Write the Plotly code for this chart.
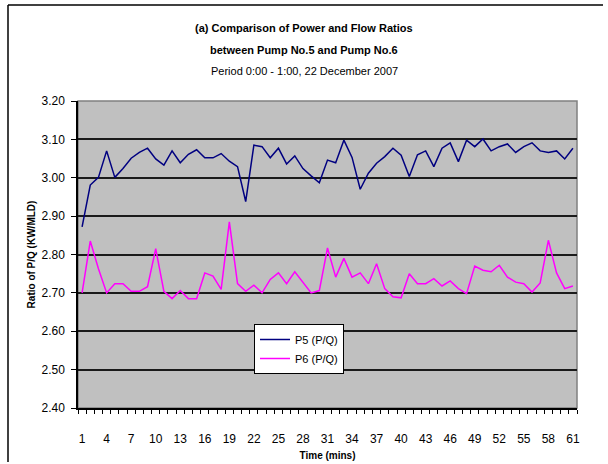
import plotly.graph_objects as go

minutes = list(range(1, 62))
p5 = [2.872, 2.981, 3.001, 3.070, 3.001, 3.024, 3.051, 3.066, 3.077, 3.049,
      3.033, 3.070, 3.039, 3.061, 3.073, 3.052, 3.052, 3.063, 3.043, 3.029,
      2.938, 3.085, 3.081, 3.052, 3.077, 3.036, 3.057, 3.024, 3.005, 2.987,
      3.046, 3.039, 3.098, 3.053, 2.970, 3.012, 3.038, 3.055, 3.077, 3.059,
      3.003, 3.060, 3.070, 3.029, 3.077, 3.091, 3.042, 3.098, 3.081, 3.101,
      3.070, 3.081, 3.088, 3.066, 3.081, 3.091, 3.070, 3.066, 3.070, 3.049,
      3.077]
p6 = [2.700, 2.835, 2.763, 2.700, 2.724, 2.724, 2.704, 2.704, 2.716, 2.815,
      2.704, 2.685, 2.706, 2.685, 2.685, 2.752, 2.744, 2.709, 2.885, 2.724,
      2.704, 2.720, 2.700, 2.735, 2.752, 2.724, 2.755, 2.726, 2.700, 2.706,
      2.817, 2.741, 2.790, 2.741, 2.752, 2.724, 2.776, 2.711, 2.690, 2.687,
      2.750, 2.724, 2.724, 2.737, 2.718, 2.731, 2.711, 2.698, 2.770, 2.759,
      2.755, 2.772, 2.741, 2.728, 2.724, 2.702, 2.726, 2.837, 2.752, 2.711,
      2.718]
x_tick_vals = list(range(1, 62, 3))
y_tick_vals = [2.40, 2.50, 2.60, 2.70, 2.80, 2.90, 3.00, 3.10, 3.20]

FONT = "Liberation Sans, Arial, sans-serif"

# category boundaries (ticks between categories, as in a category axis)
boundaries = [m - 0.5 for m in minutes] + [minutes[-1] + 0.5]
x_range = [boundaries[0], boundaries[-1]]

fig = go.Figure()
fig.add_trace(go.Scatter(x=minutes, y=p5, mode="lines", name="P5 (P/Q)",
                         line=dict(color="#000080", width=1.5), xaxis="x"))
fig.add_trace(go.Scatter(x=minutes, y=p6, mode="lines", name="P6 (P/Q)",
                         line=dict(color="#FF00FF", width=1.5), xaxis="x2"))

L, R, T, B = 78, 31, 101, 56
W, H = 608, 464
pw, ph = W - L - R, H - T - B

def px(xp):
    return (xp - L) / pw

def py(yp):
    return (H - B - yp) / ph

fig.update_layout(
    width=W, height=H,
    margin=dict(l=L, r=R, t=T, b=B, pad=0),
    paper_bgcolor="white",
    plot_bgcolor="#C0C0C0",
    font=dict(family=FONT, size=12, color="black"),
    showlegend=True,
    legend=dict(x=px(254), y=py(324), xanchor="left", yanchor="top",
                bgcolor="white", bordercolor="black", borderwidth=1,
                font=dict(family=FONT, size=11, color="black"),
                tracegroupgap=0, itemwidth=30),
    xaxis=dict(range=x_range, tickmode="array", tickvals=boundaries,
               ticktext=["" for _ in boundaries], showticklabels=False,
               ticks="outside", ticklen=4, tickwidth=1, tickcolor="black",
               showgrid=False, zeroline=False, showline=True, linecolor="black",
               linewidth=1.5, automargin=False),
    xaxis2=dict(range=x_range, overlaying="x", anchor="y", side="bottom",
                tickmode="array", tickvals=x_tick_vals,
                ticktext=[str(v) for v in x_tick_vals], ticks="", showgrid=False,
                zeroline=False, showline=False, tickfont=dict(size=12),
                ticklabelstandoff=22, automargin=False,
                title=dict(text="<b>Time (mins)</b>", font=dict(size=10), standoff=6)),
    yaxis=dict(range=[2.40, 3.20], tickmode="array", tickvals=y_tick_vals,
               ticktext=["%.2f" % v for v in y_tick_vals], ticks="outside",
               ticklen=5, tickcolor="black", showgrid=True, gridcolor="#1a1a1a",
               gridwidth=1.5, zeroline=False, showline=True, linecolor="black",
               linewidth=1.5, tickfont=dict(size=12), ticklabelstandoff=4,
               automargin=False,
               title=dict(text="<b>Ratio of P/Q (KW/MLD)</b>", font=dict(size=10), standoff=4)),
)

# plot area border (top/right)
fig.add_shape(type="rect", xref="paper", yref="paper", x0=0, y0=0, x1=1, y1=1,
              line=dict(color="#808080", width=1.5), fillcolor="rgba(0,0,0,0)", layer="below")
# outer chart border (left / top)
fig.add_shape(type="line", xref="paper", yref="paper", x0=px(8), y0=py(462),
              x1=px(8), y1=py(5), line=dict(color="black", width=1.5))
fig.add_shape(type="line", xref="paper", yref="paper", x0=px(8), y0=py(5),
              x1=px(603), y1=py(5), line=dict(color="black", width=1.5))

for txt, yy in [("<b>(a) Comparison of Power and Flow Ratios</b>", 28),
                ("<b>between Pump No.5 and Pump No.6</b>", 50),
                ("Period 0:00 - 1:00, 22 December 2007", 71)]:
    fig.add_annotation(text=txt, x=px(304), y=py(yy), xref="paper", yref="paper",
                       xanchor="center", yanchor="middle", showarrow=False,
                       font=dict(size=11))

fig.write_html("out.html", config={"displayModeBar": False},
               post_script="document.body.style.margin='0';")
